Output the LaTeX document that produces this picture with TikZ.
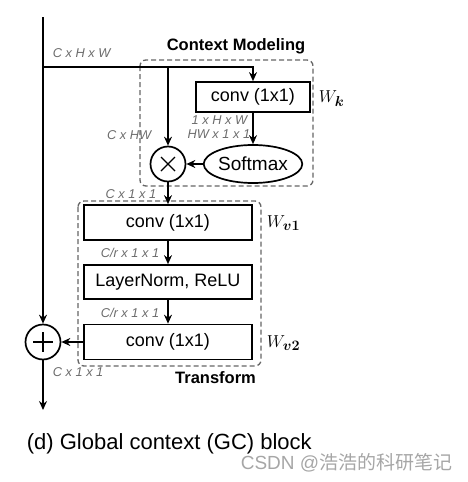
\documentclass[tikz,border=0pt]{standalone}
\usepackage{fontspec}
\usepackage{bm}
\setmainfont{Liberation Sans}
\newfontfamily\cjkfont{Noto Sans CJK SC}
\usetikzlibrary{arrows.meta,shapes.geometric}
\begin{document}
\begin{tikzpicture}[x=1pt,y=-1pt,
  line width=1.7pt,
  arr/.style={-{Stealth[length=9pt,width=8pt,inset=3pt]}},
  blk/.style={draw,rectangle,inner sep=0pt,font=\fontsize{18}{20}\selectfont},
  dim/.style={font=\fontsize{12.8}{13}\selectfont\itshape,text=black!58,inner sep=0pt},
  grp/.style={draw=black!60,dashed,line width=1.3pt,rounded corners=6pt,dash pattern=on 5pt off 3pt},
  ttl/.style={font=\fontsize{16.5}{18}\selectfont\bfseries,inner sep=0pt},
  wlab/.style={font=\fontsize{19}{20}\selectfont,inner sep=0pt,anchor=west}
]
\useasboundingbox (0,0) rectangle (468,482);
% group frames
\draw[grp] (140,60) rectangle (313,186);
\draw[grp] (78,201) rectangle (261,366);
\node[ttl] (ctxt) at (236,46) {Context Modeling};
\node[ttl] (trt) at (215.5,378) {Transform};
% coordinates
\coordinate (top) at (43,17);
\coordinate (split) at (43,67);
\coordinate (corner) at (253,67);
\coordinate (branch) at (168,67);
\coordinate (out) at (43,410);
% nodes
\node[blk,minimum width=114pt,minimum height=30pt] (convk) at (253,97) {conv (1x1)};
\node[draw,ellipse,inner sep=0pt,minimum width=86pt,minimum height=38pt,font=\fontsize{19}{20}\selectfont] (soft) at (253,164) {Softmax};
\node[draw,circle,inner sep=0pt,minimum size=35pt] (mul) at (168,164) {};
\node[blk,minimum width=168pt,minimum height=35pt] (conv1) at (168,222.5) {conv (1x1)};
\node[blk,minimum width=168pt,minimum height=34pt] (ln) at (168,282) {LayerNorm, ReLU};
\node[blk,minimum width=168pt,minimum height=35pt] (conv2) at (168,342) {conv (1x1)};
\node[draw,circle,inner sep=0pt,minimum size=35pt] (add) at (43,342) {};
% cross marks
\draw[line width=1.2pt] ([shift={(-7,-7)}]mul.center) -- ([shift={(7,7)}]mul.center)
  ([shift={(-7,7)}]mul.center) -- ([shift={(7,-7)}]mul.center);
\draw[line width=1.8pt] ([shift={(-10,0)}]add.center) -- ([shift={(10,0)}]add.center)
  ([shift={(0,-10)}]add.center) -- ([shift={(0,10)}]add.center);
% connectors
\draw (top) -- (split);
\draw[arr] (split) -- (add);
\draw[arr] (split) -- (corner) -- (convk);
\draw[arr] (branch) -- (mul);
\draw[arr] (convk) -- (soft);
\draw[arr] (soft) -- (mul);
\draw[arr] (mul) -- (conv1);
\draw[arr] (conv1) -- (ln);
\draw[arr] (ln) -- (conv2);
\draw[arr] (conv2) -- (add);
\draw[arr] (add) -- (out);
% dimension labels
\node[dim,anchor=west] (d1) at (52,53) {C x H x W};
\node[dim,anchor=east] (d2) at (152,135) {C x HW};
\node[dim,anchor=east] (d3) at (248,120.5) {1 x H x W};
\node[dim,anchor=east] (d4) at (251,134.5) {HW x 1 x 1};
\node[dim,anchor=east] (d5) at (157,194) {C x 1 x 1};
\node[dim,anchor=east] (d6) at (160,253) {C/r x 1 x 1};
\node[dim,anchor=east] (d7) at (160,313) {C/r x 1 x 1};
\node[dim,anchor=west] (d8) at (52,372) {C x 1 x 1};
% weight labels
\node[wlab] (wk) at (318,99) {$W_{\bm{k}}$};
\node[wlab] (wv1) at (266,223) {$W_{\bm{v1}}$};
\node[wlab] (wv2) at (266,343) {$W_{\bm{v2}}$};
% caption
\node[anchor=west,inner sep=0pt,font=\fontsize{22}{24}\selectfont] (cap) at (26,444) {(d) Global context (GC) block};
\node[anchor=west,inner sep=0pt,text=black!35,font=\fontsize{19}{20}\selectfont] (wm) at (240,463) {CSDN @{\cjkfont 浩浩的科研笔记}};
\end{tikzpicture}
\end{document}
